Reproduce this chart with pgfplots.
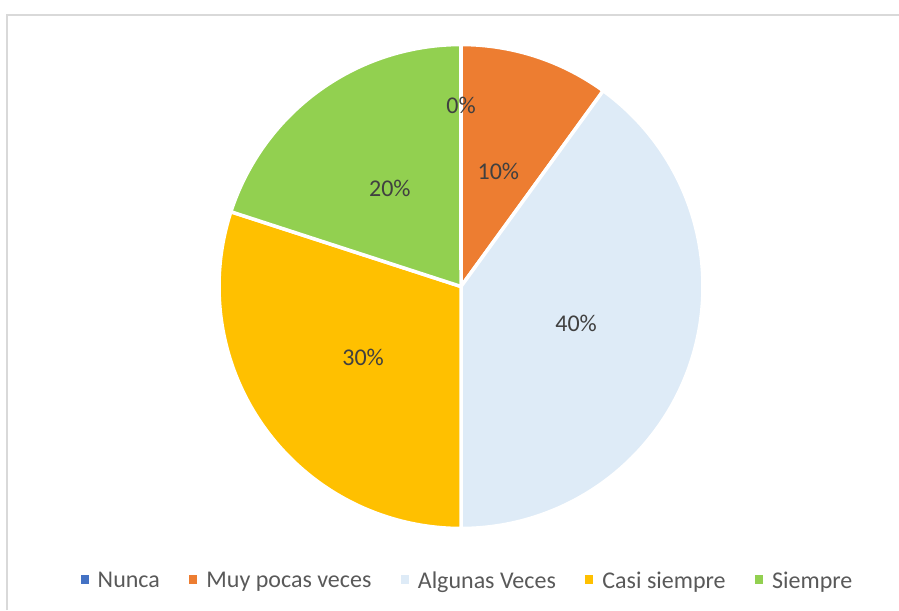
\documentclass[border=0pt]{standalone}
\usepackage{pgfplots}
\pgfplotsset{compat=1.18}
\usepackage{fontspec}
\setmainfont{Carlito}
\definecolor{cBlue}{HTML}{4472C4}
\definecolor{cOrange}{HTML}{ED7D31}
\definecolor{cLight}{HTML}{DEEBF7}
\definecolor{cGold}{HTML}{FFC000}
\definecolor{cGreen}{HTML}{92D050}
\definecolor{cLabel}{HTML}{404040}
\definecolor{cLegend}{HTML}{595959}
\definecolor{cBorder}{HTML}{D9D9D9}
\begin{document}
\begin{tikzpicture}[font=\fontsize{24bp}{29bp}\selectfont]
\begin{axis}[hide axis, x=242bp, y=242bp,
  xmin=-1.905, xmax=1.810, ymin=-1.337, ymax=1.184, clip=false,
  legend columns=-1,
  legend style={at={(axis cs:0.023,-1.217)}, anchor=center, draw=none, fill=none,
    text=cLegend, font=\fontsize{24bp}{29bp}\selectfont,
    nodes={inner sep=0pt},
    /tikz/every odd column/.append style={column sep=9bp},
    /tikz/every even column/.append style={column sep=29.5bp}},
  legend image code/.code={\path[#1] (0bp,-2.7bp) rectangle (8bp,5.6bp);}]
\coordinate (bl) at (axis cs:-1.905,-1.337);
\coordinate (tr) at (axis cs:1.810,1.184);
\draw[color=cBorder, line width=1.5bp] (axis cs:-1.876,-1.337) -- (axis cs:-1.876,1.122) -- (axis cs:1.810,1.122);
% slices: values in percent (Nunca 0, Muy pocas veces 10, Algunas Veces 40, Casi siempre 30, Siempre 20)
\addplot[fill=cOrange, draw=white, line width=3.5bp, line join=round, domain=0:10, samples=40, forget plot]
  ({sin(3.6*x)},{cos(3.6*x)}) -- (axis cs:0,0) -- cycle;
\addplot[fill=cLight, draw=white, line width=3.5bp, line join=round, domain=10:50, samples=120, forget plot]
  ({sin(3.6*x)},{cos(3.6*x)}) -- (axis cs:0,0) -- cycle;
\addplot[fill=cGold, draw=white, line width=3.5bp, line join=round, domain=50:80, samples=100, forget plot]
  ({sin(3.6*x)},{cos(3.6*x)}) -- (axis cs:0,0) -- cycle;
\addplot[fill=cGreen, draw=white, line width=3.5bp, line join=round, domain=80:100, samples=70, forget plot]
  ({sin(3.6*x)},{cos(3.6*x)}) -- (axis cs:0,0) -- cycle;
\node[text=cLabel] at (axis cs:0,0.75) {0\%};
\node[text=cLabel] at (axis cs:{0.5*sin(18)},{0.5*cos(18)}) {10\%};
\node[text=cLabel] at (axis cs:{0.5*sin(108)},{0.5*cos(108)}) {40\%};
\node[text=cLabel] at (axis cs:{0.5*sin(234)},{0.5*cos(234)}) {30\%};
\node[text=cLabel] at (axis cs:{0.5*sin(324)},{0.5*cos(324)}) {20\%};
\addlegendimage{fill=cBlue, draw=none}
\addlegendentry{Nunca}
\addlegendimage{fill=cOrange, draw=none}
\addlegendentry{Muy pocas veces}
\addlegendimage{fill=cLight, draw=none}
\addlegendentry{Algunas Veces}
\addlegendimage{fill=cGold, draw=none}
\addlegendentry{Casi siempre}
\addlegendimage{fill=cGreen, draw=none}
\addlegendentry{Siempre}
\end{axis}
\pgfresetboundingbox
\useasboundingbox (bl) rectangle (tr);
\end{tikzpicture}
\end{document}
